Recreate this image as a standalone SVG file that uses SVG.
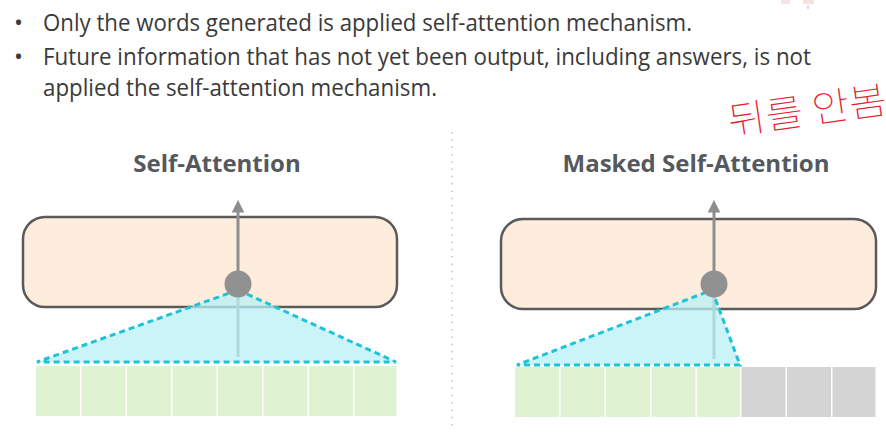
<svg xmlns="http://www.w3.org/2000/svg" width="886" height="433" viewBox="0 0 886 433">
<style>
.bt{font-family:"Open Sans","Noto Sans","Liberation Sans",sans-serif;font-size:24px;fill:#3a3a3a}
.ttl{font-family:"Open Sans","Noto Sans","Liberation Sans",sans-serif;font-size:24px;font-weight:700;fill:#55595e;text-anchor:middle}
.box{fill:#feecdc;stroke:#5a5a5a;stroke-width:2.5}
.stem{stroke:#8e8e8e;stroke-width:3;fill:none}
.node{fill:#919191}
.tri{fill:#b8f0f6;fill-opacity:0.75;stroke:#1ec3d6;stroke-width:3;stroke-dasharray:6 4}
.g{fill:#dff3d3}
.m{fill:#d4d4d4}
.hw{font-family:"Noto Sans CJK KR",sans-serif;font-size:38px;font-weight:100;fill:#e8202a}
</style>
<defs>
<marker id="ah" viewBox="0 0 10 10" refX="2" refY="5" markerWidth="4.2" markerHeight="4.4" orient="auto" markerUnits="strokeWidth">
<path d="M0,0 L10,5 L0,10 Z" fill="#8e8e8e"/>
</marker>
</defs>
<g id="header">
<text class="bt" x="14" y="31">•</text>
<text class="bt" x="43" y="31" textLength="649" lengthAdjust="spacingAndGlyphs">Only the words generated is applied self-attention mechanism.</text>
<text class="bt" x="14" y="65">•</text>
<text class="bt" x="43" y="65" textLength="768" lengthAdjust="spacingAndGlyphs">Future information that has not yet been output, including answers, is not</text>
<text class="bt" x="43" y="96" textLength="394" lengthAdjust="spacingAndGlyphs">applied the self-attention mechanism.</text>
</g>
<g id="thumbs" opacity="0.6">
<rect x="781" y="0" width="9" height="4" fill="#f3d2d2"/>
<rect x="803" y="0" width="11" height="4" fill="#f3d2d2"/>
<line x1="808" y1="5" x2="808" y2="9" stroke="#777" stroke-width="0.8"/>
</g>
<g id="note">
<text class="hw" x="730" y="135" transform="rotate(-8 730 135)" textLength="160" lengthAdjust="spacingAndGlyphs">뒤를 안봄</text>
</g>
<g id="separator">
<line x1="452" y1="132" x2="452" y2="430" stroke="#cfcfcf" stroke-width="2" stroke-dasharray="1.5 5.8"/>
</g>
<g id="left-panel">
<text class="ttl" x="217" y="172">Self-Attention</text>
<rect class="box" x="23" y="217" width="374" height="90" rx="22"/>
<g id="left-cells">
<rect class="g" x="36" y="366" width="44" height="50"/>
<rect class="g" x="81.5" y="366" width="44" height="50"/>
<rect class="g" x="127" y="366" width="44" height="50"/>
<rect class="g" x="172.5" y="366" width="44" height="50"/>
<rect class="g" x="218" y="366" width="44" height="50"/>
<rect class="g" x="263.5" y="366" width="44" height="50"/>
<rect class="g" x="309" y="366" width="44" height="50"/>
<rect class="g" x="354.5" y="366" width="42" height="50"/>
</g>
</g>
<g id="right-panel">
<text class="ttl" x="696" y="172">Masked Self-Attention</text>
<rect class="box" x="501" y="219" width="375" height="90" rx="22"/>
<g id="right-cells">
<rect class="g" x="515" y="367" width="44" height="50"/>
<rect class="g" x="560.5" y="367" width="44" height="50"/>
<rect class="g" x="606" y="367" width="44" height="50"/>
<rect class="g" x="651.5" y="367" width="44" height="50"/>
<rect class="g" x="697" y="367" width="43" height="50"/>
<rect class="m" x="741.5" y="367" width="44" height="50"/>
<rect class="m" x="787" y="367" width="44" height="50"/>
<rect class="m" x="832.5" y="367" width="43" height="50"/>
</g>
</g>
<g id="connectors">
<line class="stem" x1="238" y1="357" x2="238" y2="210" marker-end="url(#ah)"/>
<polygon class="tri" points="238,290 396,362 37,362"/>
<line class="stem" x1="714" y1="359" x2="714" y2="210" marker-end="url(#ah)"/>
<polygon class="tri" points="712,290 740,365 517,365"/>
</g>
<g id="left-node"><circle class="node" cx="238" cy="284" r="13.5"/></g>
<g id="right-node"><circle class="node" cx="714" cy="284" r="13.5"/></g>
</svg>
